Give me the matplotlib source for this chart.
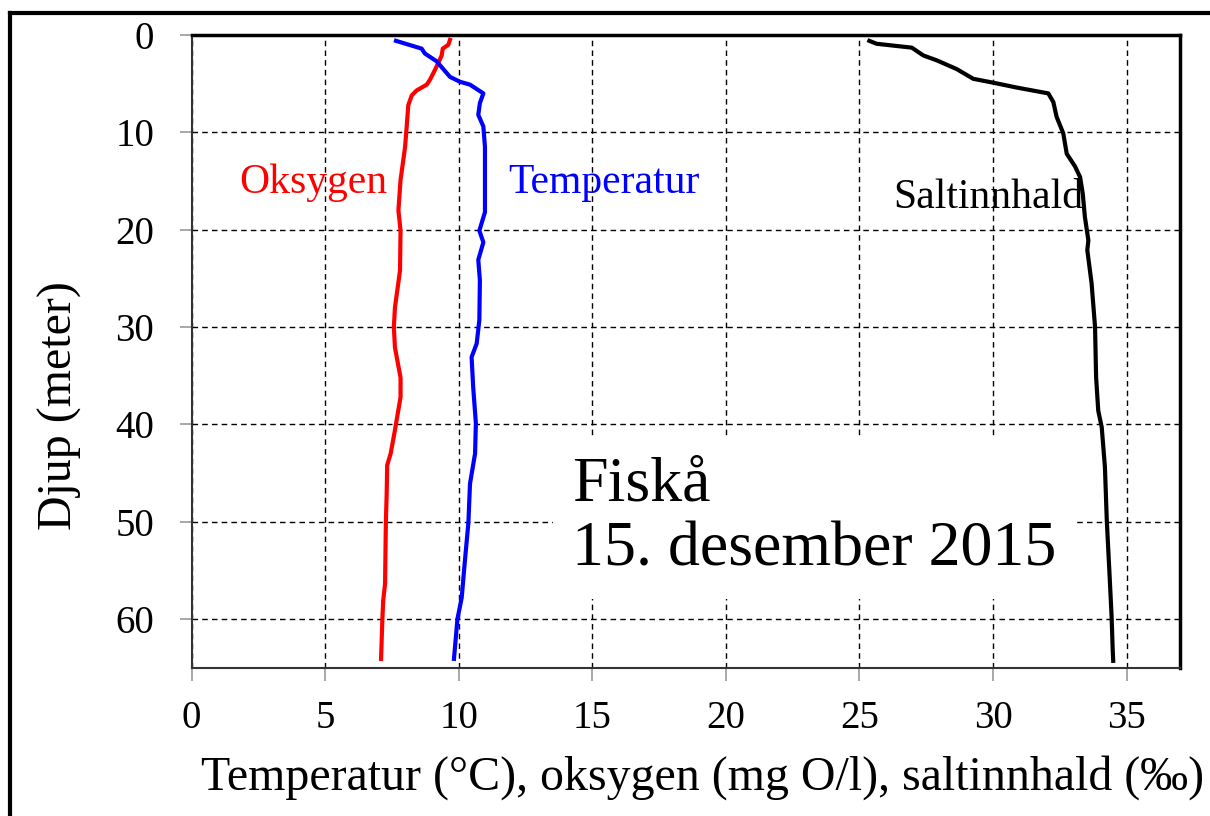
import matplotlib.pyplot as plt
from matplotlib.lines import Line2D

plt.rcParams['font.family'] = ['Liberation Serif', 'DejaVu Serif']

# depth (m) and values
temp_depth = [0.6, 1.4, 1.9, 2.7, 4.3, 4.8, 5.1, 6.0, 7.0, 8.2, 9.4, 11.5, 14.9, 18.2,
              20.1, 21.3, 23.1, 25.2, 29.3, 31.7, 33.1, 36.2, 39.9, 43.0, 46.1, 50.1,
              54.0, 57.8, 60.0, 64.1]
temp = [7.65, 8.61, 8.73, 9.17, 9.67, 10.04, 10.42, 10.92, 10.79, 10.73, 10.92, 10.98,
        10.98, 10.98, 10.77, 10.92, 10.73, 10.79, 10.77, 10.67, 10.48, 10.54, 10.64,
        10.61, 10.42, 10.36, 10.23, 10.11, 9.95, 9.82]

oxy_depth = [0.5, 1.0, 1.4, 2.1, 2.9, 3.9, 4.6, 5.1, 5.7, 6.2, 7.2, 9.4, 11.5, 14.9, 18.0,
             20.1, 24.2, 28.0, 30.0, 32.1, 35.2, 37.2, 40.6, 43.0, 44.2, 47.2, 50.1,
             56.4, 58.1, 60.0, 64.1]
oxy = [9.67, 9.61, 9.40, 9.36, 9.23, 9.05, 8.92, 8.80, 8.42, 8.24, 8.11, 8.05, 7.99,
       7.82, 7.74, 7.82, 7.80, 7.61, 7.57, 7.61, 7.82, 7.82, 7.61, 7.45, 7.32, 7.30,
       7.27, 7.24, 7.17, 7.14, 7.09]

salt_depth = [0.6, 0.9, 1.3, 2.1, 2.6, 3.2, 3.5, 4.5, 4.9, 5.4, 6.0, 6.9, 8.4, 10.1,
              12.2, 13.5, 14.6, 16.3, 18.7, 21.1, 22.1, 25.5, 30.0, 35.2, 38.6, 40.3,
              44.4, 49.9, 56.4, 59.8, 63.1, 64.3]
salt = [25.37, 25.64, 26.96, 27.39, 27.89, 28.39, 28.64, 29.26, 30.01, 30.89, 32.07,
        32.26, 32.38, 32.63, 32.76, 33.07, 33.26, 33.36, 33.44, 33.57, 33.53, 33.69,
        33.82, 33.86, 33.94, 34.07, 34.19, 34.26, 34.38, 34.44, 34.48, 34.50]

xticks = [0, 5, 10, 15, 20, 25, 30, 35]
yticks = [0, 10, 20, 30, 40, 50, 60]

fig = plt.figure(figsize=(12.1, 8.16), dpi=100)
ax = fig.add_axes([0.1584, 0.1818, 0.8168, 0.7753])

ax.plot(oxy, oxy_depth, color='#ff0000', lw=3)
ax.plot(temp, temp_depth, color='#0000ff', lw=3)
ax.plot(salt, salt_depth, color='black', lw=3)

ax.set_xlim(0, 37)
ax.set_ylim(65, 0)
ax.set_xticks(xticks)
ax.set_yticks(yticks)
ax.grid(True, color='black', linestyle=(0, (4, 3)), lw=1)
ax.tick_params(direction='out', length=9, width=1.2, color='#999999', labelsize=28)
ax.tick_params(axis='x', pad=14)
ax.tick_params(axis='y', pad=18)

for s in ['left', 'bottom']:
    ax.spines[s].set_color('#333333')
    ax.spines[s].set_linewidth(1.5)
for s in ['top', 'right']:
    ax.spines[s].set_color('black')
    ax.spines[s].set_linewidth(2.5)

ax.set_xlabel('Temperatur (°C), oksygen (mg O/l), saltinnhald (‰)', fontsize=34.5, va='center')
ax.xaxis.set_label_coords(0.517, -0.174)
ax.set_ylabel('Djup (meter)', fontsize=34.5, va='center')
ax.yaxis.set_label_coords(-0.133, 0.415)

ax.text(1.8, 15.2, 'Oksygen', color='#ff0000', fontsize=30, va='center')
ax.text(11.84, 15.2, 'Temperatur', color='#0000ff', fontsize=30, va='center')
ax.text(26.26, 16.7, 'Saltinnhald', color='black', fontsize=30, va='center')

ax.text(14.24, 49.6, 'Fiskå\n15. desember 2015', fontsize=46, va='center',
        linespacing=1.17, bbox=dict(facecolor='white', edgecolor='none', pad=14))

# outer frame lines
fig.add_artist(Line2D([0.008, 1.0], [0.984, 0.984], color='black', lw=3))
fig.add_artist(Line2D([0.008, 0.008], [0.0, 0.984], color='black', lw=3))

fig.savefig('out.png', dpi=100)
